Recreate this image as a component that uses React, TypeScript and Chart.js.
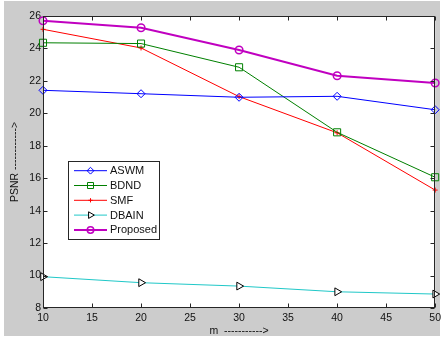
import React, { useEffect, useRef } from 'react';
import { Chart, registerables } from 'chart.js';
import { drawPoint } from 'chart.js/helpers';

Chart.register(...registerables);

const mValues = [10, 20, 30, 40, 50];
const aswm = [21.42, 21.21, 20.99, 21.05, 20.22];
const bdnd = [24.35, 24.3, 22.84, 18.83, 16.06];
const smf = [25.18, 24.03, 21.03, 18.8, 15.27];
const dbain = [9.93, 9.56, 9.35, 9.0, 8.86];
const proposed = [25.71, 25.28, 23.9, 22.32, 21.87];
const seriesNames = ['ASWM', 'BDND', 'SMF', 'DBAIN', 'Proposed'];
const xTitle = 'm  ----------->';
const yTitle = 'PSNR ------------>';

const FONT = '"Liberation Sans", Arial, sans-serif';
const AXIS_COLOR = '#262626';

const backgroundPlugin = {
  id: 'bgPlugin',
  beforeDraw(chart: any) {
    const { ctx, chartArea } = chart;
    ctx.save();
    ctx.fillStyle = '#ffffff';
    ctx.fillRect(0, 0, chart.width, chart.height);
    ctx.fillStyle = '#cccccc';
    ctx.fillRect(4, 1, 436, 335);
    ctx.fillStyle = '#ffffff';
    ctx.fillRect(chartArea.left, chartArea.top, chartArea.right - chartArea.left, chartArea.bottom - chartArea.top);
    ctx.restore();
  },
};

const boxPlugin = {
  id: 'boxPlugin',
  afterDatasetsDraw(chart: any) {
    const { ctx, chartArea } = chart;
    const xs = chart.scales.x;
    const ys = chart.scales.y;
    const L = Math.round(chartArea.left) + 0.5;
    const R = Math.round(chartArea.right) - 0.5;
    const T = Math.round(chartArea.top) + 0.5;
    const B = Math.round(chartArea.bottom) - 0.5;
    ctx.save();
    ctx.strokeStyle = AXIS_COLOR;
    ctx.lineWidth = 1;
    ctx.strokeRect(L, T, R - L, B - T);
    ctx.beginPath();
    const tl = 4;
    xs.ticks.forEach((t: any) => {
      const px = Math.round(xs.getPixelForValue(t.value)) + 0.5;
      ctx.moveTo(px, B);
      ctx.lineTo(px, B - tl);
      ctx.moveTo(px, T);
      ctx.lineTo(px, T + tl);
    });
    ys.ticks.forEach((t: any) => {
      const py = Math.round(ys.getPixelForValue(t.value)) + 0.5;
      ctx.moveTo(L, py);
      ctx.lineTo(L + tl, py);
      ctx.moveTo(R, py);
      ctx.lineTo(R - tl, py);
    });
    ctx.stroke();
    ctx.restore();
  },
};

const legendPlugin = {
  id: 'customLegend',
  afterDraw(chart: any) {
    const { ctx } = chart;
    ctx.save();
    const bx = 68.5, by = 161.5, bw = 91, bh = 78;
    ctx.fillStyle = '#ffffff';
    ctx.fillRect(bx, by, bw, bh);
    ctx.strokeStyle = AXIS_COLOR;
    ctx.lineWidth = 1;
    ctx.strokeRect(bx, by, bw, bh);
    chart.data.datasets.forEach((ds: any, i: number) => {
      const y = 170.7 + i * 14.8;
      ctx.strokeStyle = ds.borderColor;
      ctx.lineWidth = ds.borderWidth;
      ctx.beginPath();
      ctx.moveTo(74, y);
      ctx.lineTo(107, y);
      ctx.stroke();
      ctx.strokeStyle = ds.pointBorderColor || ds.borderColor;
      ctx.fillStyle = ds.pointBackgroundColor;
      ctx.lineWidth = ds.pointBorderWidth;
      drawPoint(ctx, { pointStyle: ds.pointStyle, rotation: ds.pointRotation || 0, radius: ds.pointRadius * 0.85, borderWidth: ds.pointBorderWidth }, 90.5, y);
      ctx.fillStyle = '#111111';
      ctx.font = `11px ${FONT}`;
      ctx.textBaseline = 'middle';
      ctx.textAlign = 'left';
      ctx.fillText(ds.label, 110, y + 0.5);
    });
    ctx.restore();
  },
};

const titlePlugin = {
  id: 'titles',
  afterDraw(chart: any) {
    const { ctx, chartArea } = chart;
    ctx.save();
    ctx.fillStyle = '#111111';
    ctx.font = `10.5px ${FONT}`;
    ctx.textAlign = 'center';
    ctx.textBaseline = 'middle';
    ctx.fillText(xTitle, (chartArea.left + chartArea.right) / 2, 331);
    ctx.translate(15, (chartArea.top + chartArea.bottom) / 2);
    ctx.rotate(-Math.PI / 2);
    ctx.fillText(yTitle, 0, 0);
    ctx.restore();
  },
};

function makeData(values: number[]) {
  return values.map((v, i) => ({ x: mValues[i], y: v }));
}

export default function App() {
  const canvasRef = useRef<HTMLCanvasElement | null>(null);

  useEffect(() => {
    if (!canvasRef.current) return;
    const common = { tension: 0, clip: false as any, pointHoverRadius: 0 };
    const chart = new Chart(canvasRef.current, {
      type: 'line',
      data: {
        datasets: [
          {
            ...common,
            label: seriesNames[0],
            data: makeData(aswm),
            borderColor: '#0000ff',
            borderWidth: 1,
            pointStyle: 'rectRot',
            pointRadius: 4,
            pointBorderWidth: 1,
            pointBorderColor: '#0000ff',
            pointBackgroundColor: 'rgba(0,0,0,0)',
          },
          {
            ...common,
            label: seriesNames[1],
            data: makeData(bdnd),
            borderColor: '#008000',
            borderWidth: 1,
            pointStyle: 'rect',
            pointRadius: 5,
            pointBorderWidth: 1,
            pointBorderColor: '#008000',
            pointBackgroundColor: 'rgba(0,0,0,0)',
          },
          {
            ...common,
            label: seriesNames[2],
            data: makeData(smf),
            borderColor: '#ff0000',
            borderWidth: 1,
            pointStyle: 'cross',
            pointRadius: 2.5,
            pointBorderWidth: 1,
            pointBorderColor: '#ff0000',
            pointBackgroundColor: 'rgba(0,0,0,0)',
          },
          {
            ...common,
            label: seriesNames[3],
            data: makeData(dbain),
            borderColor: '#20c8c8',
            borderWidth: 1,
            pointStyle: 'triangle',
            pointRotation: 90,
            pointRadius: 4.5,
            pointBorderWidth: 1,
            pointBorderColor: '#000000',
            pointBackgroundColor: '#ffffff',
          },
          {
            ...common,
            label: seriesNames[4],
            data: makeData(proposed),
            borderColor: '#c000c0',
            borderWidth: 2,
            pointStyle: 'circle',
            pointRadius: 3.8,
            pointBorderWidth: 1.5,
            pointBorderColor: '#c000c0',
            pointBackgroundColor: 'rgba(0,0,0,0)',
          },
        ],
      },
      options: {
        responsive: false,
        animation: false,
        events: [],
        layout: { padding: { left: 0, right: 7, top: 16, bottom: 0 } },
        plugins: { legend: { display: false }, tooltip: { enabled: false }, title: { display: false } },
        scales: {
          x: {
            type: 'linear',
            min: 10,
            max: 50,
            grid: { display: false, drawTicks: false },
            border: { display: false },
            ticks: { stepSize: 5, padding: 4, color: '#111111', font: { family: FONT, size: 10.5 }, maxRotation: 0 },
            afterFit: (s: any) => { s.height = 30; },
          },
          y: {
            type: 'linear',
            min: 8,
            max: 26,
            grid: { display: false, drawTicks: false },
            border: { display: false },
            ticks: { stepSize: 2, padding: 2, color: '#111111', font: { family: FONT, size: 10.5 } },
            afterFit: (s: any) => { s.width = 43; },
          },
        },
      },
      plugins: [backgroundPlugin, boxPlugin, legendPlugin, titlePlugin],
    });
    return () => chart.destroy();
  }, []);

  return (
    <div style={{ position: 'fixed', left: 0, top: 0, width: 445, height: 338, background: '#ffffff' }}>
      <canvas ref={canvasRef} width={445} height={338} style={{ display: 'block' }} />
    </div>
  );
}
